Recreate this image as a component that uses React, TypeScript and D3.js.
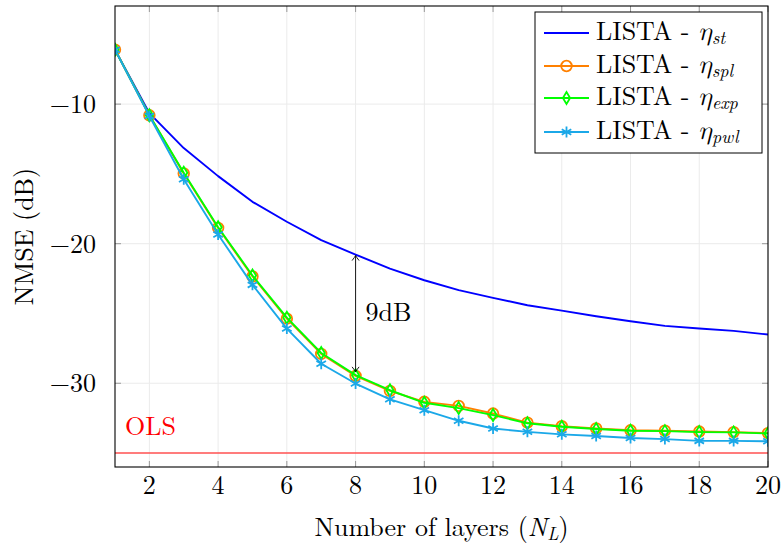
import React from "react";
import * as d3 from "d3";

const layers = [1, 2, 3, 4, 5, 6, 7, 8, 9, 10, 11, 12, 13, 14, 15, 16, 17, 18, 19, 20];
const stValues = [-6.1, -10.65, -13.15, -15.16, -17.0, -18.43, -19.75, -20.78, -21.78, -22.62, -23.33, -23.88, -24.41, -24.8, -25.2, -25.56, -25.89, -26.08, -26.25, -26.51];
const splValues = [-6.1, -10.8, -14.97, -18.87, -22.35, -25.37, -27.9, -29.47, -30.55, -31.33, -31.62, -32.17, -32.82, -33.08, -33.24, -33.37, -33.4, -33.46, -33.5, -33.57];
const expValues = [-6.1, -10.8, -14.92, -18.82, -22.28, -25.3, -27.83, -29.42, -30.5, -31.4, -31.78, -32.28, -32.87, -33.12, -33.28, -33.4, -33.43, -33.5, -33.52, -33.6];
const pwlValues = [-6.1, -10.85, -15.38, -19.34, -22.95, -26.08, -28.6, -30.02, -31.15, -31.93, -32.69, -33.24, -33.48, -33.66, -33.78, -33.92, -34.0, -34.13, -34.13, -34.16];
const olsValue = -35;
const xTicks = [2, 4, 6, 8, 10, 12, 14, 16, 18, 20];
const yTicks = [-10, -20, -30];
const seriesNames = ["st", "spl", "exp", "pwl"];
const gapLayer = 8;
const gapLabel = "9dB";

const W = 782, H = 544;
const M = { left: 115, right: 768, top: 6, bottom: 467 };
const FONT = '"Latin Modern Roman", "Liberation Serif", serif';
const GREEK = '"Latin Modern Math", "Latin Modern Roman", "DejaVu Serif", serif';
const TS: React.CSSProperties = { fontFamily: FONT };
const FS = 26;
const SUB = 18;

const colors: Record<string, string> = { st: "#0000ff", spl: "#ff8000", exp: "#00ff00", pwl: "#1ba8e8" };
const marks: Record<string, string> = { st: "none", spl: "circle", exp: "diamond", pwl: "asterisk" };

function Marker({ type, x, y, color }: { type: string; x: number; y: number; color: string }) {
  if (type === "circle") return <circle cx={x} cy={y} r={5.3} fill="none" stroke={color} strokeWidth={1.8} />;
  if (type === "diamond")
    return <path d={`M${x},${y - 6}L${x + 3.6},${y}L${x},${y + 6}L${x - 3.6},${y}Z`} fill="none" stroke={color} strokeWidth={1.8} />;
  if (type === "asterisk") {
    const r = 5.5;
    const segs = [90, 30, 150].map((a) => {
      const rad = (a * Math.PI) / 180;
      const dx = r * Math.cos(rad), dy = r * Math.sin(rad);
      return `M${x - dx},${y - dy}L${x + dx},${y + dy}`;
    });
    return <path d={segs.join("")} fill="none" stroke={color} strokeWidth={1.8} />;
  }
  return null;
}

export default function App() {
  const x = d3.scaleLinear().domain([1, 20]).range([M.left, M.right]);
  const y = d3.scaleLinear().domain([-36, -2.97]).range([M.bottom, M.top]);
  const data: Record<string, number[]> = { st: stValues, spl: splValues, exp: expValues, pwl: pwlValues };
  const line = (vals: number[]) =>
    d3.line<number>().x((_, i) => x(layers[i])).y((v) => y(v))(vals) || "";

  const legendX = 535, legendY = 12, legendW = 227, legendH = 141;
  const rowY = [33, 66, 98, 132];
  const subs: Record<string, string> = { st: "st", spl: "spl", exp: "exp", pwl: "pwl" };

  const gi = layers.indexOf(gapLayer);
  const gx = x(gapLayer);
  const gTop = y(stValues[gi]);
  const gBot = y(splValues[gi]);

  return (
    <svg width={W} height={H} style={{ position: "absolute", left: 0, top: 0, background: "#fff", fontFamily: FONT }}>
      <defs>
        <marker id="arr" viewBox="-6 -5 8 10" refX={0} refY={0} markerWidth={8} markerHeight={10} orient="auto-start-reverse" markerUnits="userSpaceOnUse">
          <path d="M-5,-3.5 Q-1.5,-0.8 0,0 Q-1.5,0.8 -5,3.5" fill="none" stroke="#000" strokeWidth={0.9} />
        </marker>
        <clipPath id="clip">
          <rect x={M.left} y={M.top} width={M.right - M.left} height={M.bottom - M.top} />
        </clipPath>
      </defs>
      {xTicks.map((t) => (
        <line key={"gx" + t} x1={x(t)} x2={x(t)} y1={M.top} y2={M.bottom} stroke="#ebebeb" strokeWidth={1} />
      ))}
      {yTicks.map((t) => (
        <line key={"gy" + t} x1={M.left} x2={M.right} y1={y(t)} y2={y(t)} stroke="#ebebeb" strokeWidth={1} />
      ))}
      {xTicks.map((t) => (
        <g key={"tx" + t} stroke="#999" strokeWidth={1}>
          <line x1={x(t)} x2={x(t)} y1={M.bottom} y2={M.bottom - 6} />
          <line x1={x(t)} x2={x(t)} y1={M.top} y2={M.top + 6} />
        </g>
      ))}
      {yTicks.map((t) => (
        <g key={"ty" + t} stroke="#999" strokeWidth={1}>
          <line x1={M.left} x2={M.left + 6} y1={y(t)} y2={y(t)} />
          <line x1={M.right} x2={M.right - 6} y1={y(t)} y2={y(t)} />
        </g>
      ))}
      <line x1={M.left} x2={M.right} y1={y(olsValue)} y2={y(olsValue)} stroke="#ff5050" strokeWidth={1.6} />
      <text x={125} y={435} fill="#ff0000" fontSize={FS} style={TS}>OLS</text>
      <g clipPath="url(#clip)">
        {seriesNames.map((s) => (
          <g key={s}>
            <path d={line(data[s])} fill="none" stroke={colors[s]} strokeWidth={1.9} strokeLinejoin="round" />
            {marks[s] !== "none" &&
              data[s].map((v, i) => <Marker key={i} type={marks[s]} x={x(layers[i])} y={y(v)} color={colors[s]} />)}
          </g>
        ))}
      </g>
      <line x1={gx} x2={gx} y1={gTop + 1} y2={gBot - 4} stroke="#000" strokeWidth={0.9} markerStart="url(#arr)" markerEnd="url(#arr)" />
      <text x={gx + 10} y={321} fontSize={FS} fill="#000" style={TS}>{gapLabel}</text>
      <rect x={M.left} y={M.top} width={M.right - M.left} height={M.bottom - M.top} fill="none" stroke="#000" strokeWidth={1.1} />
      {xTicks.map((t) => (
        <text key={"lx" + t} x={x(t)} y={M.bottom + 27} textAnchor="middle" fontSize={FS} style={TS}>{t}</text>
      ))}
      {yTicks.map((t) => (
        <text key={"ly" + t} x={96} y={y(t) + 9} textAnchor="end" fontSize={FS} style={TS}>{"\u2212" + Math.abs(t)}</text>
      ))}
      <text x={(M.left + M.right) / 2} y={536} textAnchor="middle" fontSize={FS} style={TS}>
        Number of layers (<tspan fontStyle="italic">N</tspan>
        <tspan fontStyle="italic" fontSize={SUB} dy={4}>L</tspan>
        <tspan dy={-4}>)</tspan>
      </text>
      <text transform={`translate(33,${(M.top + M.bottom) / 2}) rotate(-90)`} textAnchor="middle" fontSize={FS} style={TS}>NMSE (dB)</text>
      <rect x={legendX} y={legendY} width={legendW} height={legendH} fill="#fff" stroke="#000" strokeWidth={1} />
      {seriesNames.map((s, i) => (
        <g key={"lg" + s}>
          <line x1={544} x2={589} y1={rowY[i]} y2={rowY[i]} stroke={colors[s]} strokeWidth={1.9} />
          <Marker type={marks[s]} x={566.5} y={rowY[i]} color={colors[s]} />
          <text x={596} y={rowY[i] + 7} fontSize={FS} style={TS}>
            LISTA - <tspan fontStyle="italic" style={{ fontFamily: GREEK }}>η</tspan>
            <tspan fontStyle="italic" fontSize={SUB} dy={4}>{subs[s]}</tspan>
          </text>
        </g>
      ))}
    </svg>
  );
}
